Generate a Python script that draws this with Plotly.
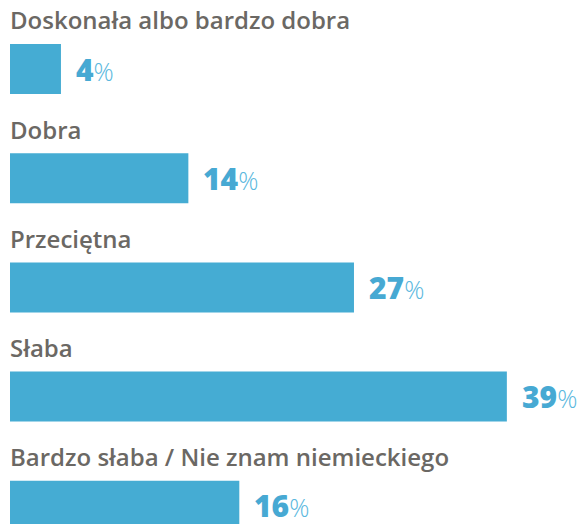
import plotly.graph_objects as go

categories = ["Doskonała albo bardzo dobra", "Dobra", "Przeciętna", "Słaba",
              "Bardzo słaba / Nie znam niemieckiego"]
# bar lengths as drawn in the picture
values = [4, 14, 27, 39, 18]
# printed labels
value_labels = ["4", "14", "27", "39", "16"]

bar_color = "#45acd3"
label_color = "#6b6864"

pos = list(range(len(categories)))

fig = go.Figure()
fig.add_trace(go.Bar(
    x=values, y=pos, orientation="h",
    marker=dict(color=bar_color, line=dict(width=0)),
    width=0.458, hoverinfo="skip", showlegend=False,
))

for i, (cat, v, lab) in enumerate(zip(categories, values, value_labels)):
    fig.add_annotation(
        x=0, y=i - 0.45, text=cat, showarrow=False,
        xanchor="left", yanchor="middle", xshift=-2,
        font=dict(family="Open Sans", size=24, color=label_color, weight=600),
    )
    fig.add_annotation(
        x=v, y=i, showarrow=False, xanchor="left", yanchor="middle", xshift=13,
        text=lab + '<span style="font-size:25px;font-weight:300;color:#5ab8de">%</span>',
        font=dict(family="Open Sans", size=30, color="#47a9d3", weight=800),
    )

fig.update_layout(
    width=582, height=524,
    margin=dict(l=0, r=0, t=0, b=0),
    plot_bgcolor="white", paper_bgcolor="white",
    xaxis=dict(range=[-10 / 12.74, 572 / 12.74], visible=False),
    yaxis=dict(range=[4.167, -0.632], visible=False),
)

fig.write_html("out.html", config={"displayModeBar": False},
               post_script="document.body.style.margin='0';document.body.style.overflow='hidden';")
